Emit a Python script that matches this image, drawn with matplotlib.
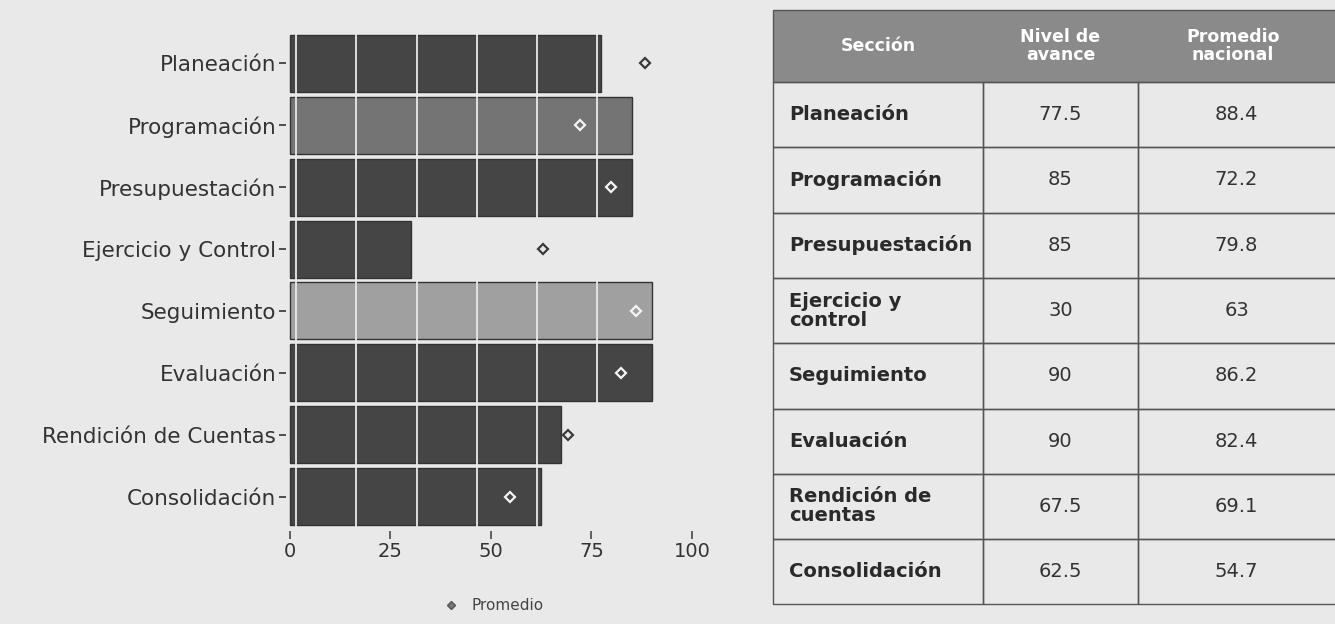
import numpy as np
import matplotlib.pyplot as plt
from matplotlib.patches import Rectangle

plt.rcParams['font.family'] = ['DejaVu Sans']

secciones = ['Planeación', 'Programación', 'Presupuestación', 'Ejercicio y Control',
             'Seguimiento', 'Evaluación', 'Rendición de Cuentas', 'Consolidación']
tabla_secciones = ['Planeación', 'Programación', 'Presupuestación', 'Ejercicio y\ncontrol',
                   'Seguimiento', 'Evaluación', 'Rendición de\ncuentas', 'Consolidación']
nivel = [77.5, 85, 85, 30, 90, 90, 67.5, 62.5]
promedio = [88.4, 72.2, 79.8, 63, 86.2, 82.4, 69.1, 54.7]
colores = ['#454545', '#747474', '#454545', '#454545', '#a0a0a0', '#454545', '#454545', '#454545']
xticks = [0, 25, 50, 75, 100]
encabezado = ['Sección', 'Nivel de\navance', 'Promedio\nnacional']

W, H = 1335, 624
bg = '#e9e9e9'
fig = plt.figure(figsize=(W / 100, H / 100), dpi=100, facecolor=bg)

# bar chart
ax = fig.add_axes([286 / W, 1 - 531 / H, 424 / W, 502 / H])
ax.set_facecolor(bg)
y = np.arange(len(secciones))
ax.barh(y, nivel, height=0.92, color=colores, edgecolor='#333333', linewidth=1, zorder=2)
# grid in background colour: only shows over the bars
for gx in np.arange(1.5, 100, 15):
    ax.axvline(gx, color=bg, lw=1.3, zorder=3)
# promedio markers: light inside a bar, dark outside
for yi, n, p in zip(y, nivel, promedio):
    c = '#f4f4f4' if p < n else '#3a3a3a'
    ax.plot(p, yi, marker='D', ms=5.5, mfc='none', mec=c, mew=1.6, zorder=4)
ax.set_xlim(-1, 104.5)
ax.set_ylim(len(secciones) - 0.45, -0.55)
ax.set_yticks(y)
ax.set_yticklabels(secciones, fontsize=15.5, color='#333333')
ax.set_xticks(xticks)
ax.set_xticklabels([str(t) for t in xticks], fontsize=14, color='#333333')
ax.tick_params(axis='y', length=5, width=1.2, color='#333333', pad=2)
ax.tick_params(axis='x', direction='out', length=6, width=1.3, color='#555555', pad=2)
for s in ax.spines.values():
    s.set_visible(False)
ax.plot([], [], marker='D', ms=4.5, mfc='#777777', mec='#555555', ls='none', label='Promedio')
ax.legend(loc='upper center', bbox_to_anchor=(0.48, -0.112), frameon=False, fontsize=11,
          handletextpad=0.3, labelcolor='#444444', borderpad=0.2)

# table
tx = fig.add_axes([0, 0, 1, 1], facecolor='none')
tx.set_xlim(0, W)
tx.set_ylim(H, 0)
tx.axis('off')
cols = [773, 983, 1138, 1340]
head_top, head_bot = 10, 82
row_h = 65.3
tx.add_patch(Rectangle((cols[0], head_top), cols[-1] - cols[0], head_bot - head_top,
                       facecolor='#8a8a8a', edgecolor='#555555', lw=1))
for j, h in enumerate(encabezado):
    tx.text((cols[j] + cols[j + 1]) / 2 - (6 if j == 2 else 0), (head_top + head_bot) / 2, h,
            ha='center', va='center', color='white', fontsize=12.5, fontweight='bold',
            linespacing=0.95)
for i, (lab, n, p) in enumerate(zip(tabla_secciones, nivel, promedio)):
    top = head_bot + i * row_h
    mid = top + row_h / 2
    for j in range(3):
        tx.add_patch(Rectangle((cols[j], top), cols[j + 1] - cols[j], row_h,
                               facecolor='none', edgecolor='#555555', lw=1))
    tx.text(cols[0] + 16, mid, lab, ha='left', va='center', fontsize=14,
            fontweight='bold', color='#2a2a2a', linespacing=1.0)
    tx.text((cols[1] + cols[2]) / 2, mid, f'{n:g}', ha='center', va='center',
            fontsize=14, color='#333333')
    tx.text((cols[2] + 1335) / 2, mid, f'{p:g}', ha='center', va='center',
            fontsize=14, color='#333333')

fig.savefig('out.png', dpi=100, facecolor=fig.get_facecolor())
